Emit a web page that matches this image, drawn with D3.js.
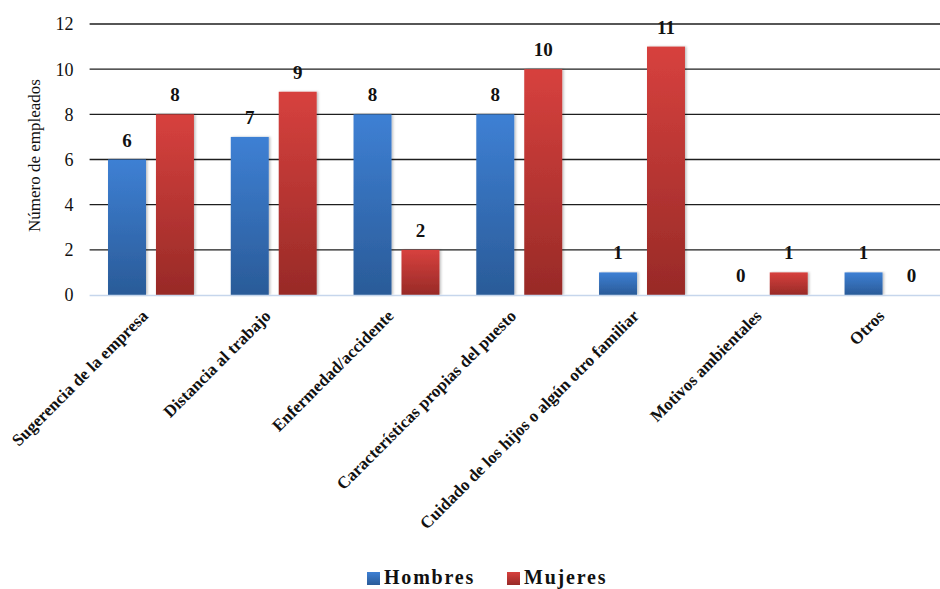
<!DOCTYPE html>
<html>
<head>
<meta charset="utf-8">
<script src="https://cdn.jsdelivr.net/npm/d3@7"></script>
<style>
  html, body { margin: 0; padding: 0; background: #fff; }
  svg { display: block; font-family: "Liberation Serif", "Times New Roman", serif; }
  svg text { font-family: "Liberation Serif", "Times New Roman", serif; }
</style>
</head>
<body>
<svg id="chart" width="940" height="589"></svg>
<script>
// Motivos por sexo (número de empleados)
const categories = [
  "Sugerencia de la empresa",
  "Distancia al trabajo",
  "Enfermedad/accidente",
  "Características propias del puesto",
  "Cuidado de los hijos o algún otro familiar",
  "Motivos ambientales",
  "Otros"
];
const seriesNames = ["Hombres", "Mujeres"];
const hombres = [6, 7, 8, 8, 1, 0, 1];
const mujeres = [8, 9, 2, 10, 11, 1, 0];
const yTicks = [0, 2, 4, 6, 8, 10, 12];

const values = [hombres, mujeres];
const svg = d3.select("#chart");
const W = 940, H = 589;

const plotLeft = 89.6, plotRight = 948.9, plotTop = 24, plotBottom = 295;

const x0 = d3.scaleBand().domain(categories).range([plotLeft, plotRight])
  .paddingInner(0.3).paddingOuter(0.15);
const x1 = d3.scaleBand().domain(seriesNames).range([0, x0.bandwidth()])
  .paddingInner(0.208).paddingOuter(0);
const y = d3.scaleLinear().domain([0, 12]).range([plotBottom, plotTop]);

// gradients per series
const defs = svg.append("defs");
const grads = [
  { id: "gH", top: "#3e80d4", bottom: "#2a5b98" },
  { id: "gM", top: "#d7413e", bottom: "#982a27" }
];
grads.forEach(g => {
  const lg = defs.append("linearGradient").attr("id", g.id)
    .attr("x1", 0).attr("y1", 0).attr("x2", 0).attr("y2", 1);
  lg.append("stop").attr("offset", "0%").attr("stop-color", g.top);
  lg.append("stop").attr("offset", "100%").attr("stop-color", g.bottom);
});
const sh = defs.append("filter").attr("id", "shadow")
  .attr("x", "-20%").attr("y", "-5%").attr("width", "150%").attr("height", "115%");
sh.append("feDropShadow").attr("dx", 1.5).attr("dy", 0).attr("stdDeviation", 1.2)
  .attr("flood-color", "#000").attr("flood-opacity", 0.25);

// gridlines
svg.append("g").selectAll("line")
  .data(yTicks.filter(t => t > 0))
  .join("line")
  .attr("x1", plotLeft).attr("x2", W)
  .attr("y1", d => y(d)).attr("y2", d => y(d))
  .attr("stroke", "#1e1e1e").attr("stroke-width", 1.3);

// y axis labels
const yAxis = d3.axisLeft(y).tickValues(yTicks).tickSize(0).tickPadding(0);
const gy = svg.append("g").attr("transform", `translate(${plotLeft - 16},0)`).call(yAxis);
gy.attr("font-family", null).attr("font-size", null);
gy.select(".domain").remove();
gy.selectAll("text")
  .attr("font-size", 18).attr("fill", "#111").attr("dy", "0.33em");

// y title
svg.append("text")
  .attr("transform", `translate(40,${(plotTop + plotBottom) / 2 - 4}) rotate(-90)`)
  .attr("text-anchor", "middle")
  .attr("font-size", 17).attr("fill", "#111")
  .text("Número de empleados");

// bars
const groups = svg.append("g").selectAll("g")
  .data(categories)
  .join("g")
  .attr("transform", d => `translate(${x0(d)},0)`);

groups.selectAll("rect")
  .data((d, i) => seriesNames.map((s, k) => ({ s, k, v: values[k][i] })))
  .join("rect")
  .attr("x", d => x1(d.s))
  .attr("width", x1.bandwidth())
  .attr("y", d => y(d.v))
  .attr("height", d => y(0) - y(d.v))
  .attr("fill", d => `url(#${grads[d.k].id})`)
  .attr("filter", "url(#shadow)");

// value labels
groups.selectAll("text.val")
  .data((d, i) => seriesNames.map((s, k) => ({ s, k, v: values[k][i] })))
  .join("text")
  .attr("class", "val")
  .attr("x", d => x1(d.s) + x1.bandwidth() / 2)
  .attr("y", d => y(d.v) - 13)
  .attr("text-anchor", "middle")
  .attr("font-size", 19).attr("font-weight", "bold").attr("fill", "#111")
  .text(d => d.v);

// baseline
svg.append("line")
  .attr("x1", plotLeft).attr("x2", W)
  .attr("y1", y(0) + 0.5).attr("y2", y(0) + 0.5)
  .attr("stroke", "#c6d6ec").attr("stroke-width", 1.5);

// x labels, rotated
svg.append("g").selectAll("text")
  .data(categories)
  .join("text")
  .attr("transform", d => `translate(${x0(d) + x0.bandwidth() / 2 - 2},${plotBottom + 22}) rotate(-45)`)
  .attr("text-anchor", "end")
  .attr("font-size", 17).attr("font-weight", "bold").attr("fill", "#111")
  .text(d => d);

// legend
const legend = svg.append("g").attr("transform", "translate(367,578)");
const legItems = [
  { name: seriesNames[0], fill: "url(#gH)", x: 0 },
  { name: seriesNames[1], fill: "url(#gM)", x: 140 }
];
legItems.forEach(it => {
  legend.append("rect").attr("x", it.x).attr("y", -6).attr("width", 13).attr("height", 13)
    .attr("fill", it.fill);
  legend.append("text").attr("x", it.x + 17).attr("y", 6)
    .attr("font-size", 20).attr("font-weight", "bold").attr("letter-spacing", 1.8)
    .attr("fill", "#111")
    .text(it.name);
});
</script>
</body>
</html>
